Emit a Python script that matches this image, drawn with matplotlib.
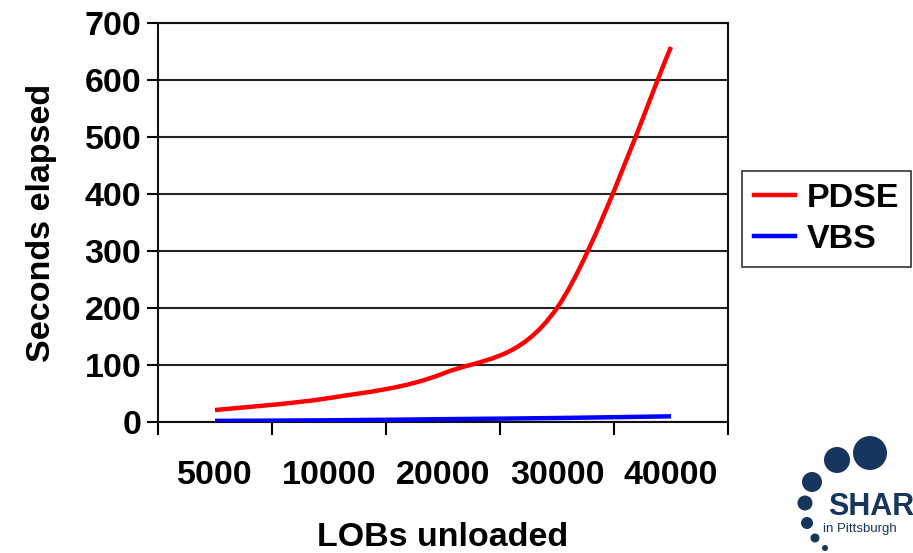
import numpy as np
import matplotlib.pyplot as plt
from matplotlib.path import Path
from matplotlib.patches import PathPatch, Circle
from matplotlib.lines import Line2D

# data
lobs = ["5000", "10000", "20000", "30000", "40000"]
pdse_secs = [21, 42, 85, 200, 658]
vbs_secs = [2, 3, 5, 7, 10]

plt.rcParams['font.family'] = ['Liberation Sans', 'DejaVu Sans']
plt.rcParams['font.weight'] = 'bold'
FS = 24.5


def smooth_path(xs, ys):
    # bezier segments through every point (catmull-rom style tangents)
    pts = np.column_stack([xs, ys]).astype(float)
    n = len(pts)
    verts = [pts[0]]
    codes = [Path.MOVETO]
    for i in range(n - 1):
        p_prev = pts[max(i - 1, 0)]
        p0 = pts[i]
        p1 = pts[i + 1]
        p_next = pts[min(i + 2, n - 1)]
        c1 = p0 + (p1 - p_prev) / 6.0
        c2 = p1 - (p_next - p0) / 6.0
        verts += [c1, c2, p1]
        codes += [Path.CURVE4] * 3
    return Path(verts, codes)


fig = plt.figure(figsize=(9.13, 5.53), dpi=100)
ax = fig.add_axes([158 / 913, 1 - 422 / 553, 570 / 913, 399 / 553])

x = np.arange(len(lobs))
ax.add_patch(PathPatch(smooth_path(x, pdse_secs), fill=False, edgecolor="#ff0000",
                       lw=3.2, capstyle="butt", zorder=3))
ax.add_patch(PathPatch(smooth_path(x, vbs_secs), fill=False, edgecolor="#0000ff",
                       lw=3.2, capstyle="butt", zorder=3))

ax.set_xlim(-0.5, len(lobs) - 0.5)
ax.set_ylim(0, 700)

# category boundaries get tick marks, labels sit in the middle
ax.set_xticks(np.arange(len(lobs) + 1) - 0.5)
ax.set_xticklabels([])
ax.set_xticks(x, minor=True)
ax.set_xticklabels(lobs, minor=True, fontsize=FS, fontweight="bold")
ax.tick_params(axis="x", which="major", direction="out", length=9, width=1.5)
ax.tick_params(axis="x", which="minor", length=0, pad=27)

ax.set_yticks(range(0, 701, 100))
ax.tick_params(axis="y", direction="out", length=8, width=1.5, labelsize=FS, pad=4)
for lab in ax.get_yticklabels():
    lab.set_fontweight("bold")

ax.yaxis.grid(True, color="#222222", lw=1.5)
ax.set_axisbelow(True)
for side in ["left", "bottom", "right", "top"]:
    ax.spines[side].set_linewidth(1.5)
    ax.spines[side].set_color("#111111")

ax.set_ylabel("Seconds elapsed", fontsize=FS, fontweight="bold", labelpad=20)
ax.set_xlabel("LOBs unloaded", fontsize=FS, fontweight="bold", labelpad=23)

handles = [Line2D([], [], color="#ff0000", lw=3.2),
           Line2D([], [], color="#0000ff", lw=3.2)]
leg = fig.legend(handles, ["PDSE", "VBS"], loc="upper left",
                 bbox_to_anchor=(742 / 913, 1 - 171 / 553), fontsize=FS,
                 frameon=True, fancybox=False, edgecolor="black",
                 handlelength=1.2, handletextpad=0.35, borderpad=0.35,
                 labelspacing=0.3, borderaxespad=0)
leg.get_frame().set_linewidth(1.2)
for t in leg.get_texts():
    t.set_fontweight("bold")

# logo in the corner
navy = "#17365d"
dots = [(870, 453, 17), (837, 460, 13), (812, 482, 10), (805, 503, 7.5),
        (807, 523, 6), (815, 538, 4.5), (825, 548, 3)]
for cx, cy, r in dots:
    fig.patches.append(Circle((cx, 553 - cy), r, transform=None,
                              facecolor=navy, edgecolor="none"))
fig.text(828 / 913, 1 - 515 / 553, "SHARE", fontsize=22, fontweight="heavy",
         color=navy, ha="left", va="baseline")
fig.text(823 / 913, 1 - 532 / 553, "in Pittsburgh", fontsize=9.5,
         fontweight="normal", color=navy, ha="left", va="baseline")

fig.savefig("out.png", dpi=100)
